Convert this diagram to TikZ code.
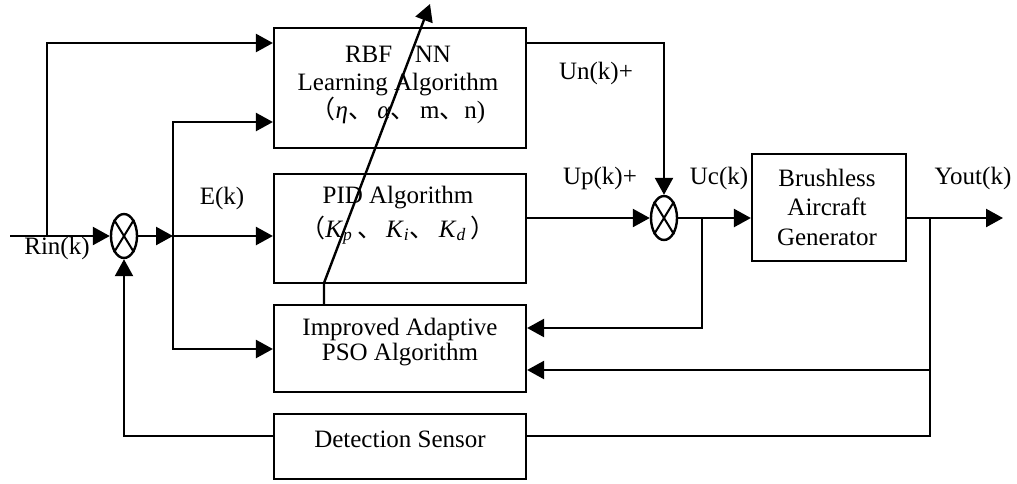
\documentclass[tikz,border=0pt]{standalone}
\usepackage{fontspec}
\setmainfont{Liberation Serif}
\newfontfamily\cjk{Noto Sans CJK SC}
\usetikzlibrary{arrows.meta,shapes.geometric}
\tikzset{
  ln/.style={line width=1.2pt},
  arr/.style={line width=1.2pt,-{Triangle[length=8.5pt,width=9pt]}},
  blk/.style={draw,line width=1.1pt,inner sep=0pt},
  txt/.style={font=\fontsize{12.5pt}{14.5pt}\selectfont,align=center,inner sep=0pt},
  sumj/.style={draw,ellipse,line width=1.2pt,minimum width=13pt,minimum height=22pt,inner sep=0pt},
}
\newcommand{\cjkc}{{\cjk 、}}
\begin{document}
\begin{tikzpicture}[x=0.5pt,y=-0.5pt]
\useasboundingbox (0,0) rectangle (1017,483);

% blocks
\node[blk,minimum width=126pt,minimum height=60pt] (rbf) at (400,88) {};
\node[blk,minimum width=126pt,minimum height=54.5pt] (pid) at (400,228.5) {};
\node[blk,minimum width=126pt,minimum height=43.5pt] (pso) at (400,348.5) {};
\node[blk,minimum width=126pt,minimum height=32.5pt] (det) at (400,446.5) {};
\node[blk,minimum width=77pt,minimum height=53.5pt] (gen) at (829,207.5) {};

% block texts
\node[txt,font=\fontsize{12.5pt}{14pt}\selectfont] (rbft) at (398,85)
  {RBF\hspace{0.9em}NN\\Learning Algorithm\\{\cjk （}\textit{η}\cjkc\,\textit{α}\cjkc\,m\cjkc n)};
\node[txt,font=\fontsize{12.5pt}{17pt}\selectfont] (pidt) at (398,215)
  {PID Algorithm\\{\cjk （}\textit{K}\textsubscript{\textit{p}}\,\cjkc\,\textit{K}\textsubscript{\textit{i}}\cjkc\,\textit{K}\textsubscript{\textit{d}}\,{\cjk ）}};
\node[txt,font=\fontsize{12.5pt}{12.5pt}\selectfont] (psot) at (400,342) {Improved Adaptive\\PSO Algorithm};
\node[txt] (dett) at (400,439) {Detection Sensor};
\node[txt,font=\fontsize{12.5pt}{14.75pt}\selectfont] (gent) at (827,207) {Brushless\\Aircraft\\Generator};

% summing junctions
\node[sumj] (sum1) at (124,236) {};
\node[sumj] (sum2) at (664,218) {};
\foreach \s in {sum1,sum2}{
  \draw[line width=1pt] (\s.north west) -- (\s.south east);
  \draw[line width=1pt] (\s.north east) -- (\s.south west);
}

% branch points
\coordinate (rin) at (10,236);
\coordinate (br1) at (47,236);
\coordinate (ej) at (173,236);
\coordinate (ucj) at (702,218);
\coordinate (yj) at (930,218);
\coordinate (yout) at (1003,218);
\coordinate (bend) at (324,283);
\coordinate (tip) at (430,4);

% forward path
\draw[arr] (rin) -- (sum1.west);
\draw[arr] (br1) |- (rbf.west |- 0,43);
\draw[arr] (sum1.east) -- (ej);
\draw[arr] (ej) -- (pid.west |- ej);
\draw[arr] (ej) |- (rbf.west |- 0,122);
\draw[arr] (ej) |- (pso.west |- 0,349);
\draw[arr] (pid.east |- sum2) -- (sum2.west);
\draw[arr] (rbf.east |- 0,43) -| (sum2.north);
\draw[arr] (sum2.east) -- (gen.west |- sum2);
\draw[arr] (gen.east |- yj) -- (yout);

% feedback paths
\draw[arr] (ucj) |- (pso.east |- 0,328);
\draw[arr] (yj) |- (pso.east |- 0,370);
\draw[ln] (yj) |- (det.east |- 0,436);
\draw[arr] (det.west |- 0,436) -| (sum1.south);

% parameter tuning arrow
\draw[arr] (pso.north -| bend) -- (bend) -- (tip);

% signal labels
\node[txt] (lrin) at (57,248) {Rin(k)};
\node[txt] (le) at (222,198) {E(k)};
\node[txt] (lun) at (596,73) {Un(k)+};
\node[txt] (lup) at (600,178) {Up(k)+};
\node[txt] (luc) at (719,178) {Uc(k)};
\node[txt] (ly) at (973,178) {Yout(k)};
\end{tikzpicture}
\end{document}
